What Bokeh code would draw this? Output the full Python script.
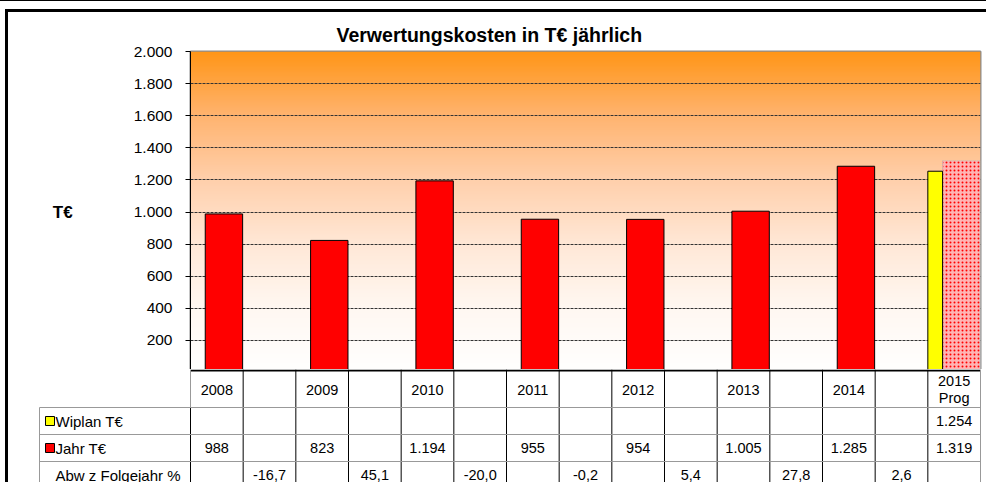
import numpy as np
from bokeh.plotting import figure
from bokeh.models import Range1d, FixedTicker, ColumnDataSource
from bokeh.layouts import column
from bokeh.embed import file_html
from bokeh.resources import INLINE
from bokeh.core.properties import value

# ---------------- data ----------------
title_text = "Verwertungskosten in T€ jährlich"
years = ["2008", "2009", "2010", "2011", "2012", "2013", "2014", "2015\nProg"]
jahr = [988, 823, 1194, 955, 954, 1005, 1285, 1319]      # Jahr T€ (last = Prognose)
wiplan = [None, None, None, None, None, None, None, 1254]  # Wiplan T€
abw = [-16.7, 45.1, -20.0, -0.2, 5.4, 27.8, 2.6]          # Abw z Folgejahr %
row_labels = ["Wiplan T€", "Jahr T€", "Abw z Folgejahr %"]
y_ticks = [0, 200, 400, 600, 800, 1000, 1200, 1400, 1600, 1800, 2000]
y_tick_labels = ["", "200", "400", "600", "800", "1.000", "1.200", "1.400", "1.600", "1.800", "2.000"]

FONT = "Liberation Sans"
N_SLOTS = 2 * len(years) - 1
SLOT_PX = 790 / N_SLOTS
W = 981
RB = 9     # right border of chart
CH = 360   # chart figure height
TH = 113   # table figure height
BORDER = "3px solid black"


def de_int(v):
    return f"{v:,}".replace(",", ".")


def de_dec(v):
    return f"{v:.1f}".replace(".", ",")


# ---------------- chart ----------------
p = figure(width=W, height=CH, x_range=Range1d(0, N_SLOTS), y_range=Range1d(0, 2000),
           output_backend="svg", toolbar_location=None, x_axis_location=None,
           min_border_left=182, min_border_right=RB, min_border_top=39, min_border_bottom=0,
           background_fill_color="white", border_fill_color="white",
           outline_line_color="#8c8c8c", outline_line_width=2, frame_align=False,
           styles={"margin-left": "5px", "margin-top": "8px",
                   "border-left": BORDER, "border-top": BORDER})

# gradient background (orange -> white)
NG = 256
tt = np.linspace(0, 1, NG)
img = np.empty((NG, 2), dtype=np.uint32)
view = img.view(dtype=np.uint8).reshape((NG, 2, 4))
st = [0, 0.2, 0.4, 0.6, 0.8, 1.0]
view[:, :, 0] = 255
view[:, :, 1] = np.interp(tt, st, [255, 248, 232, 208, 180, 150]).astype(np.uint8)[:, None]
view[:, :, 2] = np.interp(tt, st, [255, 242, 215, 172, 112, 24]).astype(np.uint8)[:, None]
view[:, :, 3] = 255
p.image_rgba(image=[img], x=0, y=0, dw=N_SLOTS, dh=2000, level="image")

p.xgrid.visible = False
p.ygrid.ticker = FixedTicker(ticks=y_ticks[1:-1])
p.ygrid.grid_line_color = "#333333"
p.ygrid.grid_line_dash = "3 1"
p.ygrid.grid_line_width = 1

ax = p.yaxis[0]
ax.ticker = FixedTicker(ticks=y_ticks)
ax.major_label_overrides = dict(zip(y_ticks, y_tick_labels))
ax.minor_tick_line_color = None
ax.major_tick_in = 0
ax.major_tick_out = 5
ax.major_tick_line_color = "black"
ax.axis_line_color = "black"
ax.axis_line_width = 1
ax.major_label_standoff = 13
ax.major_label_text_font = FONT
ax.major_label_text_font_size = "15.5px"
ax.major_label_text_color = "black"
ax.axis_label = "T€"
ax.axis_label_orientation = "horizontal"
ax.axis_label_text_font = FONT
ax.axis_label_text_font_size = "17px"
ax.axis_label_text_font_style = "bold"
ax.axis_label_text_color = "black"
ax.axis_label_standoff = 58

# bars
yr_slot = [2 * i for i in range(len(years))]
jsrc = ColumnDataSource(dict(x=[s + 0.635 for s in yr_slot[:-1]], top=jahr[:-1]))
p.vbar(x="x", top="top", width=0.71, bottom=0, source=jsrc,
       fill_color="#FF0000", line_color="black", line_width=1)
psrc = ColumnDataSource(dict(x=[yr_slot[-1] + 0.635], top=[jahr[-1]]))
p.vbar(x="x", top="top", width=0.71, bottom=0, source=psrc,
       fill_color="#ffb4b4", hatch_pattern="dot", hatch_color="#FF0000",
       hatch_scale=4, hatch_weight=3, line_color="#bbbbbb", line_width=1, line_dash="1 1")
wsrc = ColumnDataSource(dict(x=[s + 0.14 for s, v in zip(yr_slot, wiplan) if v is not None],
                             top=[v for v in wiplan if v is not None]))
p.vbar(x="x", top="top", width=0.28, bottom=0, source=wsrc,
       fill_color="#FFFF00", line_color="black", line_width=1)

p.title.text = title_text
p.title.text_font = FONT
p.title.text_font_size = "19.5px"
p.title.text_font_style = "bold"
p.title.text_color = "black"
p.title.align = "left"
p.title.offset = 146
p.title.standoff = 11

# ---------------- table ----------------
x0 = -182 / SLOT_PX
x1 = N_SLOTS + RB / SLOT_PX
t = figure(width=W, height=TH, x_range=Range1d(x0, x1), y_range=Range1d(TH, 0),
           output_backend="svg", toolbar_location=None, x_axis_location=None, y_axis_location=None,
           min_border=0, outline_line_color=None, frame_align=False,
           background_fill_color="white", border_fill_color="white",
           styles={"margin-left": "5px", "border-left": BORDER})
t.grid.visible = False

xl = (39 - 190) / SLOT_PX  # left edge of label column
rows_y = [0, 38, 65, 92, 119]

# axis base line
t.segment(x0=[0], x1=[N_SLOTS], y0=[1], y1=[1], line_color="black", line_width=2)
# vertical lines
t.segment(x0=list(range(1, N_SLOTS)), x1=list(range(1, N_SLOTS)),
          y0=[0] * (N_SLOTS - 1), y1=[TH] * (N_SLOTS - 1), line_color="black", line_width=1)
t.segment(x0=[0, N_SLOTS], x1=[0, N_SLOTS], y0=[0, 0], y1=[rows_y[1], TH], line_color="#999999", line_width=1)
t.segment(x0=[0], x1=[0], y0=[rows_y[1]], y1=[TH], line_color="black", line_width=1)
t.segment(x0=[xl], x1=[xl], y0=[rows_y[1]], y1=[TH], line_color="#999999", line_width=1)
t.segment(x0=[xl] * 3, x1=[N_SLOTS] * 3, y0=rows_y[1:4], y1=rows_y[1:4], line_color="#999999", line_width=1)

cy = [(rows_y[i] + rows_y[i + 1]) / 2 for i in range(4)]

# header texts
t.text(x=[s + 0.5 for s in yr_slot], y=[cy[0] + 1] * len(years), text=years,
       text_font=value(FONT), text_font_size="14.5px", text_align="center", text_baseline="middle",
       text_color="black", text_line_height=1.1)
# wiplan values
wx = [s + 0.5 for s, v in zip(yr_slot, wiplan) if v is not None]
t.text(x=wx, y=[cy[1]] * len(wx), text=[de_int(v) for v in wiplan if v is not None],
       text_font=value(FONT), text_font_size="14.5px", text_align="center", text_baseline="middle",
       text_color="black")
# jahr values
t.text(x=[s + 0.5 for s in yr_slot], y=[cy[2]] * len(jahr), text=[de_int(v) for v in jahr],
       text_font=value(FONT), text_font_size="14.5px", text_align="center", text_baseline="middle",
       text_color="black")
# abw values
t.text(x=[2 * i + 1.5 for i in range(len(abw))], y=[cy[3]] * len(abw), text=[de_dec(v) for v in abw],
       text_font=value(FONT), text_font_size="14.5px", text_align="center", text_baseline="middle",
       text_color="black")
# row labels
lx = (55 - 190) / SLOT_PX
t.text(x=[lx] * 3, y=cy[1:4], text=row_labels,
       text_font=value(FONT), text_font_size="15px", text_align="left", text_baseline="middle",
       text_color="black")
kx = (49.5 - 190) / SLOT_PX
t.rect(x=[kx, kx], y=cy[1:3], width=9, height=9, width_units="screen", height_units="screen",
       fill_color=["#FFFF00", "#FF0000"], line_color="black", line_width=1)

layout = column(p, t, spacing=0, styles={"border-top": "1px solid black"})
open("out.html", "w").write(file_html(layout, INLINE))
